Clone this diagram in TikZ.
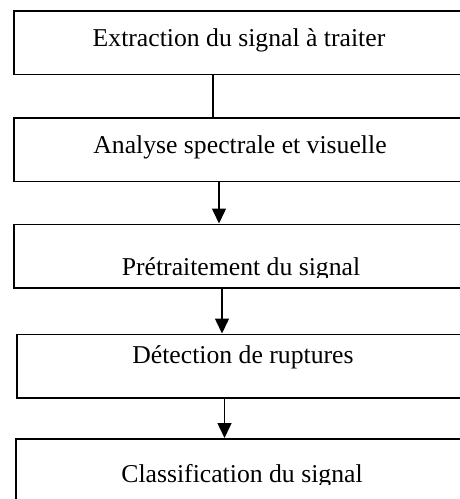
\documentclass[tikz,border=0pt]{standalone}
\usepackage{fontspec}
\setmainfont{Liberation Serif}
\usetikzlibrary{arrows.meta}
\begin{document}
\begin{tikzpicture}[x=1pt,y=1pt,
  stepbox/.style={draw=black, line width=1.5pt, rectangle, inner sep=0pt,
    anchor=north west, minimum width=454pt, minimum height=63.5pt},
  lbl/.style={anchor=base, inner sep=0pt, font=\fontsize{25.7}{30}\selectfont},
  conn/.style={draw=black, line width=1.5pt},
  arr/.style={conn, -{Triangle[width=14pt,length=15pt]}}]
\useasboundingbox (0,0) rectangle (460,-499);
\clip (0,0) rectangle (460,-499);
\fill[white] (0,0) rectangle (460,-499);
% boxes
\node[stepbox] (b1) at (13,-10) {};
\node[stepbox] (b2) at (13,-117) {};
\node[stepbox] (b3) at (13,-223.5) {};
\node[stepbox] (b4) at (16,-333.5) {};
\node[stepbox, minimum height=80pt] (b5) at (15,-438) {};
% texts
\node[lbl] (t1) at (239,-46.7) {Extraction du signal à traiter};
\node[lbl] (t2) at (240,-153) {Analyse spectrale et visuelle};
\begin{scope}
  \clip (13,-223.5) rectangle (467,-277.5);
  \node[lbl] (t3) at (241,-275) {Prétraitement du signal};
\end{scope}
\node[lbl] (t4) at (243,-363) {Détection de ruptures};
\begin{scope}
  \clip (15,-438) rectangle (467,-484.5);
  \node[lbl] (t5) at (242,-482) {Classification du signal};
\end{scope}
% connectors
\draw[conn] ([xshift=200pt]b1.south west) -- ([xshift=200pt]b2.north west);
\draw[arr] ([xshift=206pt]b2.south west) -- ([xshift=206pt]b3.north west);
\draw[arr] ([xshift=209pt]b3.south west) -- ([xshift=206pt]b4.north west);
\draw[arr] ([xshift=208.5pt]b4.south west) -- ([xshift=209.5pt]b5.north west);
\end{tikzpicture}
\end{document}
